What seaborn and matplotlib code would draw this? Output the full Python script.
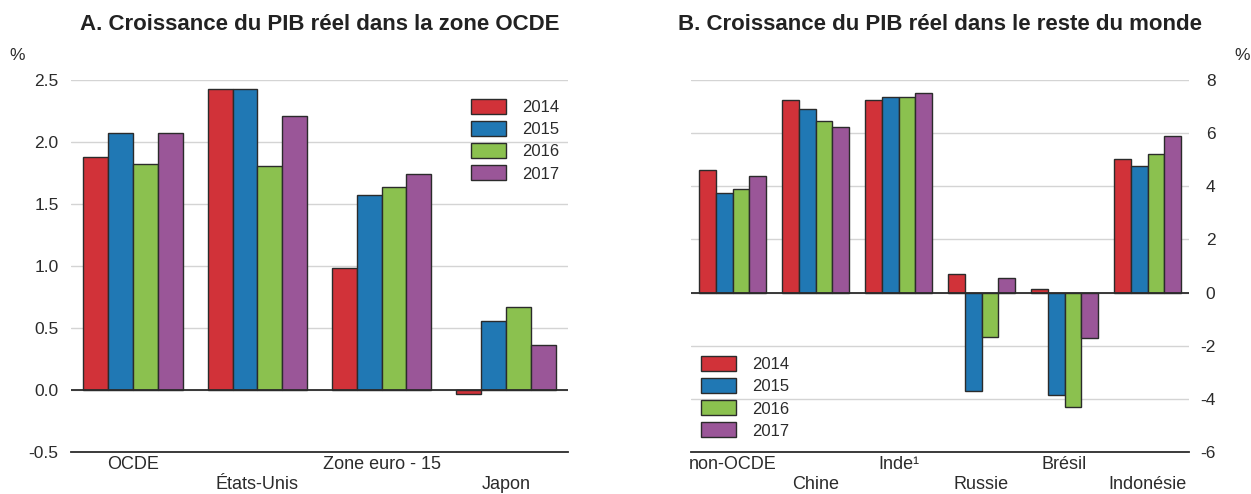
import matplotlib
matplotlib.use("Agg")
import matplotlib.pyplot as plt
import pandas as pd
import seaborn as sns

# --- data ---
years = ["2014", "2015", "2016", "2017"]

pays_a = ["OCDE", "États-Unis", "Zone euro - 15", "Japon"]
a_2014 = [1.88, 2.43, 0.98, -0.03]
a_2015 = [2.07, 2.43, 1.57, 0.56]
a_2016 = [1.82, 1.81, 1.64, 0.67]
a_2017 = [2.07, 2.21, 1.74, 0.36]

pays_b = ["non-OCDE", "Chine", "Inde¹", "Russie", "Brésil", "Indonésie"]
b_2014 = [4.61, 7.26, 7.24, 0.71, 0.13, 5.03]
b_2015 = [3.75, 6.91, 7.35, -3.71, -3.84, 4.78]
b_2016 = [3.91, 6.47, 7.35, -1.68, -4.31, 5.20]
b_2017 = [4.40, 6.23, 7.51, 0.53, -1.72, 5.91]

ticks_a = [-0.5, 0.0, 0.5, 1.0, 1.5, 2.0, 2.5]
ticks_b = [-6, -4, -2, 0, 2, 4, 6, 8]

colors = ["#D13239", "#2078B4", "#8BC14F", "#9A5698"]
DARK = "#2b2b2b"
GRID = "#d4d4d4"

sns.set_style("white")
plt.rcParams["font.family"] = ["Liberation Sans", "DejaVu Sans"]
plt.rcParams["axes.unicode_minus"] = False


def long_form(pays, series):
    rows = []
    for yr, vals in zip(years, series):
        for p, v in zip(pays, vals):
            rows.append({"pays": p, "annee": yr, "val": v})
    return pd.DataFrame(rows)


def draw_panel(ax, df, pays, yticks, fmt, right=False):
    sns.barplot(data=df, x="pays", y="val", hue="annee", order=pays,
                hue_order=years, palette=colors, edgecolor=DARK,
                linewidth=1.0, saturation=1, ax=ax, zorder=3)
    ax.set_xlim(-0.5, len(pays) - 0.5)
    ax.set_ylim(yticks[0], yticks[-1])
    ax.set_yticks(yticks)
    ax.set_yticklabels([fmt.format(t) for t in yticks], fontsize=12.5, color=DARK)
    for t in yticks[1:]:
        ax.axhline(t, color=GRID, lw=1.0, zorder=0)
    ax.axhline(0, color=DARK, lw=1.3, zorder=4)

    # staggered category labels: every other one on a second row
    labels = [p if i % 2 == 0 else "\n" + p for i, p in enumerate(pays)]
    ax.set_xticks(range(len(pays)))
    ax.set_xticklabels(labels, fontsize=13, color=DARK, linespacing=1.25)
    ax.tick_params(axis="x", direction="in", length=5, width=1, color=DARK, pad=3)
    ax.set_xlabel("")
    ax.set_ylabel("")

    for s in ["top", "left", "right"]:
        ax.spines[s].set_visible(False)
    ax.spines["bottom"].set_color(DARK)
    ax.spines["bottom"].set_linewidth(1.3)

    if right:
        ax.yaxis.tick_right()
        ax.tick_params(axis="y", length=0, pad=19)
        for lab in ax.get_yticklabels():
            lab.set_horizontalalignment("right")
    else:
        ax.tick_params(axis="y", length=0, pad=9)

    handles, labs = ax.get_legend_handles_labels()
    ax.get_legend().remove()
    return handles, labs


fig = plt.figure(figsize=(12.51, 4.94), dpi=100)
W, H = 1251, 494
ax_a = fig.add_axes([71 / W, 1 - 452 / H, 497 / W, 372 / H])
ax_b = fig.add_axes([691 / W, 1 - 452 / H, 498 / W, 372 / H])

df_a = long_form(pays_a, [a_2014, a_2015, a_2016, a_2017])
df_b = long_form(pays_b, [b_2014, b_2015, b_2016, b_2017])

h_a, l_a = draw_panel(ax_a, df_a, pays_a, ticks_a, "{:.1f}")
h_b, l_b = draw_panel(ax_b, df_b, pays_b, ticks_b, "{:g}", right=True)

leg_kw = dict(frameon=False, fontsize=12, handlelength=2.1, handleheight=1.0,
              labelspacing=0.36, handletextpad=0.95, borderpad=0,
              borderaxespad=0, loc="upper left", bbox_transform=fig.transFigure,
              labelcolor=DARK)
fig.legend(h_a, l_a, bbox_to_anchor=(471 / W, 1 - 99 / H), **leg_kw)
fig.legend(h_b, l_b, bbox_to_anchor=(701 / W, 1 - 356 / H), **leg_kw)

fig.text(319.5 / W, 1 - 25 / H, "A. Croissance du PIB réel dans la zone OCDE",
         ha="center", va="center", fontsize=16, fontweight="bold", color="#222222")
fig.text(940 / W, 1 - 25 / H, "B. Croissance du PIB réel dans le reste du monde",
         ha="center", va="center", fontsize=16, fontweight="bold", color="#222222")
fig.text(17 / W, 1 - 55 / H, "%", ha="center", va="center", fontsize=12.5, color=DARK)
fig.text(1242 / W, 1 - 55 / H, "%", ha="center", va="center", fontsize=12.5, color=DARK)

fig.savefig("out.png", dpi=100)
